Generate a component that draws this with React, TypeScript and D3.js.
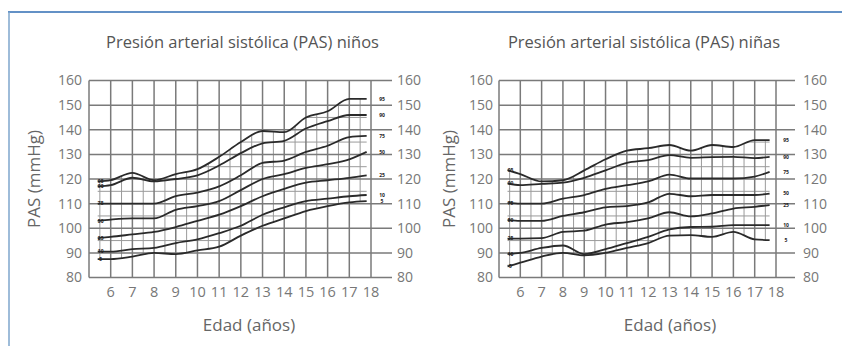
import React from 'react';
import * as d3 from 'd3';

const PERCENTILES = ['95', '90', '75', '50', '25', '10', '5'];
const Y_TICKS = [80, 90, 100, 110, 120, 130, 140, 150, 160];
const X_TICKS = [6, 7, 8, 9, 10, 11, 12, 13, 14, 15, 16, 17, 18];
const GRID_AGES = [5, 6, 7, 8, 9, 10, 11, 12, 13, 14, 15, 16, 17, 18];
const MINOR_AGES = [5.5, 6.5, 7.5, 8.5, 9.5, 10.5, 11.5, 12.5, 13.5, 14.5, 15.5, 16.5, 17.5];
const MINOR_VALUES = [85, 95, 105, 115, 125, 135, 145, 155];

// Niños (boys)
const BOYS_AGES = [5.4, 6, 7, 8, 9, 10, 11, 12, 13, 14, 15, 16, 17, 17.8];
const BOYS_P95 = [119, 119.5, 122.5, 119.5, 122, 124, 129, 135, 139.5, 139, 145, 147.5, 152.5, 152.5];
const BOYS_P90 = [117, 117.5, 120.5, 119, 120, 121.5, 125.5, 130.5, 134.5, 135.5, 140.5, 143.5, 146, 146];
const BOYS_P75 = [110, 110, 110, 110, 113, 114.5, 117, 121.5, 126.5, 127.5, 131, 133.5, 137, 137.5];
const BOYS_P50 = [103, 103.5, 104, 104, 107.5, 109, 111, 115.5, 120, 122, 124.5, 126, 128, 131];
const BOYS_P25 = [96, 96.5, 97.5, 98.5, 100.5, 103, 105.5, 109, 113, 116, 118.5, 119.5, 120.5, 121.5];
const BOYS_P10 = [90.5, 90.5, 91.5, 92, 94, 95.5, 98, 101, 105.5, 108.5, 111, 112, 113, 113.5];
const BOYS_P5 = [87.5, 87.5, 88.5, 90, 89.5, 91, 92.5, 97, 101, 104, 107, 109, 110.5, 111];

// Niñas (girls)
const GIRLS_AGES = [5.4, 6, 7, 8, 9, 10, 11, 12, 13, 14, 15, 16, 17, 17.7];
const GIRLS_P95 = [123.6, 122, 119, 119.5, 123.5, 128, 131.5, 132.5, 133.8, 131.5, 133.8, 133, 135.8, 135.8];
const GIRLS_P90 = [118.2, 117.5, 118, 118.5, 120.5, 123.5, 126.5, 127.7, 129.7, 128.6, 128.9, 129, 128.5, 129];
const GIRLS_P75 = [110.3, 110, 110, 112, 113.5, 116, 117.5, 119, 121.8, 120.2, 120.2, 120.2, 121, 122.9];
const GIRLS_P50 = [103.3, 103, 103, 105, 106.5, 108.5, 109, 110.5, 114, 113, 113.5, 113.5, 113.5, 114.1];
const GIRLS_P25 = [95.8, 95.8, 96, 98.5, 99, 101.5, 102.5, 104, 106.5, 104.8, 106, 108, 108.7, 109.4];
const GIRLS_P10 = [89.5, 90, 92, 93, 89.5, 91.5, 94, 96.5, 99.5, 100.5, 100.6, 101.3, 101.3, 101.3];
const GIRLS_P5 = [84.5, 86, 88.5, 90, 89, 90, 92, 94, 97, 97.2, 96.5, 98.5, 95.5, 95.2];

const FONT = '"Open Sans", "DejaVu Sans", sans-serif';

type Layout = {
  x0: number; x18: number; frameRight: number; titleX: number; yLabelX: number;
  tickLeftX: number; tickRightX: number; xLabelX: number; endLabelX: number;
};

function Chart({ id, title, ages, series, L }: { id: string; title: string; ages: number[]; series: number[][]; L: Layout }) {
  const x = d3.scaleLinear().domain([5, 18]).range([L.x0, L.x18]);
  const y = d3.scaleLinear().domain([80, 160]).range([277.5, 80.5]);
  const line = d3.line<number>().x((_, i) => x(ages[i])).y(d => y(d)).curve(d3.curveMonotoneX);
  const low = series[series.length - 1];
  const band = d3.area<number>()
    .x((_, i) => x(ages[i]))
    .y0((_, i) => y(low[i]))
    .y1(d => y(d))
    .curve(d3.curveMonotoneX);
  const last = ages.length - 1;
  return (
    <g>
      <defs>
        <clipPath id={`band-${id}`}>
          <path d={band(series[0]) || ''} />
        </clipPath>
      </defs>
      <text x={L.titleX} y={48} textAnchor="middle" fontFamily={FONT} fontSize={16.5} fill="#555">{title}</text>
      <g clipPath={`url(#band-${id})`}>
        {MINOR_AGES.map(a => (
          <line key={`ma${a}`} x1={x(a)} x2={x(a)} y1={y(160)} y2={y(80)} stroke="#9a9a9a" strokeWidth={1} />
        ))}
        {MINOR_VALUES.map(v => (
          <line key={`mv${v}`} x1={L.x0} x2={L.x18} y1={y(v)} y2={y(v)} stroke="#9a9a9a" strokeWidth={1} />
        ))}
      </g>
      {GRID_AGES.map(a => (
        <line key={`ga${a}`} x1={x(a)} x2={x(a)} y1={y(160)} y2={y(80)} stroke="#7a7a7a" strokeWidth={1.5} />
      ))}
      {Y_TICKS.map(v => (
        <line key={`gv${v}`} x1={L.x0} x2={L.frameRight} y1={y(v)} y2={y(v)} stroke="#7a7a7a" strokeWidth={1.5} />
      ))}
      {Y_TICKS.map(v => (
        <text key={`tl${v}`} x={L.tickLeftX} y={y(v)} dy="0.35em" textAnchor="end" fontFamily={FONT} fontSize={14} fill="#777">{v}</text>
      ))}
      {Y_TICKS.map(v => (
        <text key={`tr${v}`} x={L.tickRightX} y={y(v)} dy="0.35em" textAnchor="start" fontFamily={FONT} fontSize={14} fill="#777">{v}</text>
      ))}
      {X_TICKS.map(a => (
        <text key={`xt${a}`} x={x(a)} y={297} textAnchor="middle" fontFamily={FONT} fontSize={14.5} fill="#777">{a}</text>
      ))}
      <text x={L.xLabelX} y={331} textAnchor="middle" fontFamily={FONT} fontSize={17} fill="#666">Edad (años)</text>
      <text transform={`translate(${L.yLabelX},179) rotate(-90)`} textAnchor="middle" dy="0.35em" fontFamily={FONT} fontSize={17} fill="#666">PAS (mmHg)</text>
      {series.map((s, k) => (
        <path key={`c${k}`} d={line(s) || ''} fill="none" stroke="#2a2a2a" strokeWidth={1.8} />
      ))}
      {series.map((s, k) => (
        <text key={`sl${k}`} x={x(ages[0]) + 3} y={y(s[0])} dy="0.35em" textAnchor="middle" fontFamily={FONT} fontSize={5} fontWeight={700} fill="#222">{PERCENTILES[k]}</text>
      ))}
      {series.map((s, k) => (
        <text key={`el${k}`} x={L.endLabelX} y={y(s[last])} dy="0.35em" textAnchor="middle" fontFamily={FONT} fontSize={5} fontWeight={700} fill="#222">{PERCENTILES[k]}</text>
      ))}
    </g>
  );
}

export default function App() {
  const boys = [BOYS_P95, BOYS_P90, BOYS_P75, BOYS_P50, BOYS_P25, BOYS_P10, BOYS_P5];
  const girls = [GIRLS_P95, GIRLS_P90, GIRLS_P75, GIRLS_P50, GIRLS_P25, GIRLS_P10, GIRLS_P5];
  const left: Layout = { x0: 89, x18: 371, frameRight: 392, titleX: 242.5, yLabelX: 34, tickLeftX: 82, tickRightX: 397, xLabelX: 249, endLabelX: 382 };
  const right: Layout = { x0: 499, x18: 776, frameRight: 795, titleX: 644, yLabelX: 449, tickLeftX: 493, tickRightX: 803, xLabelX: 670, endLabelX: 786 };
  return (
    <svg width={842} height={346} style={{ position: 'absolute', left: 0, top: 0, background: '#fff' }}>
      <rect x={0} y={0} width={842} height={346} fill="#fff" />
      <line x1={8} x2={842} y1={12} y2={12} stroke="#2f6db3" strokeWidth={1.5} />
      <line x1={9} x2={9} y1={12} y2={346} stroke="#7ea6cc" strokeWidth={1.5} />
      <Chart id="b" title="Presión arterial sistólica (PAS) niños" ages={BOYS_AGES} series={boys} L={left} />
      <Chart id="g" title="Presión arterial sistólica (PAS) niñas" ages={GIRLS_AGES} series={girls} L={right} />
    </svg>
  );
}
